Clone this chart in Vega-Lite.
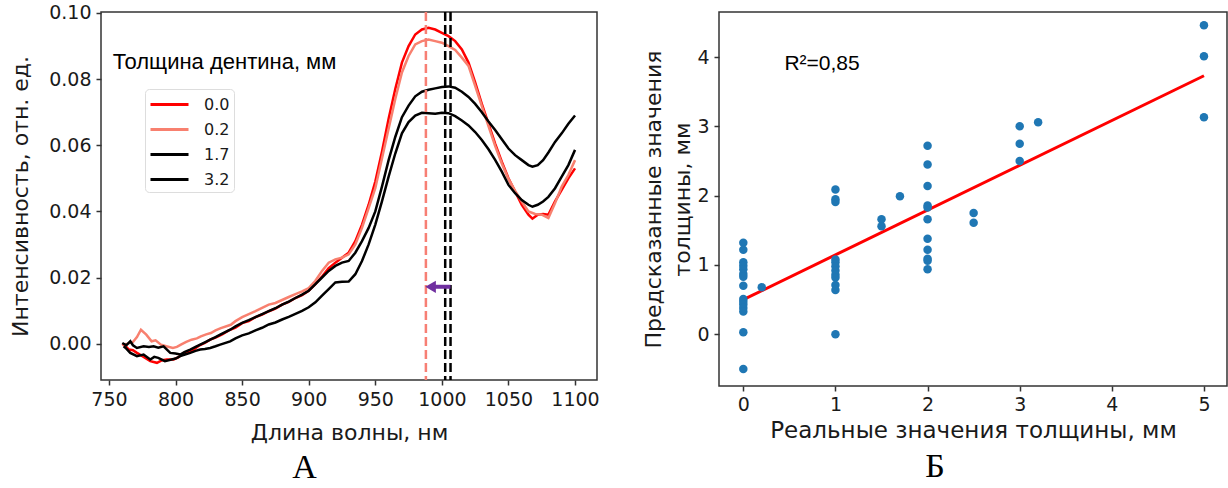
{
"$schema":"https://vega.github.io/schema/vega-lite/v6.json",
"background":"white",
"padding":{"left":8,"top":3,"right":2,"bottom":2},
"bounds":"flush",
"spacing":122,
"config":{
 "view":{"stroke":"#333","strokeWidth":1.5},
 "axis":{"grid":false,"domain":false,"tickColor":"#333","tickWidth":1.5,"tickSize":5,"labelFont":"DejaVu Sans","labelFontSize":19,"labelColor":"#1a1a1a","titleFont":"DejaVu Sans","titleFontSize":22,"titleFontWeight":"normal","titleColor":"#1a1a1a","labelPadding":5},
 "title":{"font":"Liberation Serif","fontSize":34,"fontWeight":"normal","orient":"bottom","anchor":"middle","frame":"bounds","color":"#000"}
},
"hconcat":[
{
 "width":496,"height":368,
 "title":{"text":"А","offset":8},
 "layer":[
  {
   "data":{"values":[
{"t":"0.0","wl":760,"I":0.000},{"t":"0.0","wl":763,"I":-0.001},{"t":"0.0","wl":765,"I":-0.0018},{"t":"0.0","wl":768,"I":-0.002},{"t":"0.0","wl":771,"I":-0.0028},{"t":"0.0","wl":776,"I":-0.004},{"t":"0.0","wl":781,"I":-0.0053},{"t":"0.0","wl":786,"I":-0.0058},{"t":"0.0","wl":790,"I":-0.005},{"t":"0.0","wl":793.5,"I":-0.0048},{"t":"0.0","wl":798.5,"I":-0.0048},{"t":"0.0","wl":802,"I":-0.0042},{"t":"0.0","wl":806,"I":-0.0028},{"t":"0.0","wl":810,"I":-0.0025},{"t":"0.0","wl":813.5,"I":-0.0018},{"t":"0.0","wl":818,"I":-0.0005},{"t":"0.0","wl":822,"I":0.0002},{"t":"0.0","wl":826,"I":0.0012},{"t":"0.0","wl":830,"I":0.0018},{"t":"0.0","wl":835,"I":0.0028},{"t":"0.0","wl":840,"I":0.004},{"t":"0.0","wl":845,"I":0.0048},{"t":"0.0","wl":850,"I":0.0062},{"t":"0.0","wl":855,"I":0.0068},{"t":"0.0","wl":860,"I":0.008},{"t":"0.0","wl":865,"I":0.0088},{"t":"0.0","wl":870,"I":0.0098},{"t":"0.0","wl":875,"I":0.0106},{"t":"0.0","wl":880,"I":0.0118},{"t":"0.0","wl":885,"I":0.0126},{"t":"0.0","wl":890,"I":0.0138},{"t":"0.0","wl":895,"I":0.0147},{"t":"0.0","wl":900,"I":0.016},{"t":"0.0","wl":905,"I":0.018},{"t":"0.0","wl":910,"I":0.0203},{"t":"0.0","wl":915,"I":0.0228},{"t":"0.0","wl":920,"I":0.0245},{"t":"0.0","wl":925,"I":0.026},{"t":"0.0","wl":930,"I":0.0275},{"t":"0.0","wl":935,"I":0.031},{"t":"0.0","wl":940,"I":0.036},{"t":"0.0","wl":945,"I":0.042},{"t":"0.0","wl":950,"I":0.049},{"t":"0.0","wl":955,"I":0.058},{"t":"0.0","wl":960,"I":0.068},{"t":"0.0","wl":965,"I":0.077},{"t":"0.0","wl":970,"I":0.085},{"t":"0.0","wl":975,"I":0.090},{"t":"0.0","wl":980,"I":0.0935},{"t":"0.0","wl":985,"I":0.095},{"t":"0.0","wl":990,"I":0.0955},{"t":"0.0","wl":995,"I":0.095},{"t":"0.0","wl":1000,"I":0.094},{"t":"0.0","wl":1005,"I":0.093},{"t":"0.0","wl":1010,"I":0.0915},{"t":"0.0","wl":1015,"I":0.089},{"t":"0.0","wl":1020,"I":0.085},{"t":"0.0","wl":1025,"I":0.079},{"t":"0.0","wl":1030,"I":0.0725},{"t":"0.0","wl":1035,"I":0.0665},{"t":"0.0","wl":1040,"I":0.0605},{"t":"0.0","wl":1045,"I":0.055},{"t":"0.0","wl":1050,"I":0.050},{"t":"0.0","wl":1055,"I":0.046},{"t":"0.0","wl":1060,"I":0.042},{"t":"0.0","wl":1065,"I":0.039},{"t":"0.0","wl":1068,"I":0.0378},{"t":"0.0","wl":1072,"I":0.039},{"t":"0.0","wl":1076,"I":0.0392},{"t":"0.0","wl":1080,"I":0.039},{"t":"0.0","wl":1085,"I":0.043},{"t":"0.0","wl":1090,"I":0.0465},{"t":"0.0","wl":1095,"I":0.050},{"t":"0.0","wl":1100,"I":0.053},
{"t":"0.2","wl":760,"I":-0.0003},{"t":"0.2","wl":764,"I":0.000},{"t":"0.2","wl":768,"I":0.0005},{"t":"0.2","wl":771,"I":0.002},{"t":"0.2","wl":774,"I":0.0042},{"t":"0.2","wl":778,"I":0.0027},{"t":"0.2","wl":782,"I":0.0007},{"t":"0.2","wl":785,"I":0.001},{"t":"0.2","wl":789,"I":-0.0003},{"t":"0.2","wl":793,"I":-0.0008},{"t":"0.2","wl":798,"I":-0.0013},{"t":"0.2","wl":801,"I":-0.001},{"t":"0.2","wl":804,"I":-0.0003},{"t":"0.2","wl":808,"I":0.0005},{"t":"0.2","wl":812,"I":0.0012},{"t":"0.2","wl":816,"I":0.0016},{"t":"0.2","wl":819,"I":0.0022},{"t":"0.2","wl":823,"I":0.0028},{"t":"0.2","wl":826.5,"I":0.0032},{"t":"0.2","wl":830,"I":0.004},{"t":"0.2","wl":834,"I":0.0047},{"t":"0.2","wl":841.5,"I":0.0057},{"t":"0.2","wl":845,"I":0.0068},{"t":"0.2","wl":850,"I":0.008},{"t":"0.2","wl":855,"I":0.0089},{"t":"0.2","wl":860,"I":0.0098},{"t":"0.2","wl":865,"I":0.0108},{"t":"0.2","wl":870,"I":0.0118},{"t":"0.2","wl":875,"I":0.0123},{"t":"0.2","wl":880,"I":0.0132},{"t":"0.2","wl":885,"I":0.0141},{"t":"0.2","wl":890,"I":0.015},{"t":"0.2","wl":895,"I":0.0158},{"t":"0.2","wl":900,"I":0.0168},{"t":"0.2","wl":905,"I":0.019},{"t":"0.2","wl":910,"I":0.022},{"t":"0.2","wl":915,"I":0.0245},{"t":"0.2","wl":920,"I":0.0255},{"t":"0.2","wl":925,"I":0.026},{"t":"0.2","wl":930,"I":0.027},{"t":"0.2","wl":935,"I":0.030},{"t":"0.2","wl":940,"I":0.035},{"t":"0.2","wl":945,"I":0.041},{"t":"0.2","wl":950,"I":0.047},{"t":"0.2","wl":955,"I":0.056},{"t":"0.2","wl":960,"I":0.065},{"t":"0.2","wl":965,"I":0.074},{"t":"0.2","wl":970,"I":0.082},{"t":"0.2","wl":975,"I":0.087},{"t":"0.2","wl":980,"I":0.0905},{"t":"0.2","wl":985,"I":0.0915},{"t":"0.2","wl":990,"I":0.092},{"t":"0.2","wl":995,"I":0.0915},{"t":"0.2","wl":1000,"I":0.091},{"t":"0.2","wl":1005,"I":0.090},{"t":"0.2","wl":1010,"I":0.0888},{"t":"0.2","wl":1015,"I":0.0865},{"t":"0.2","wl":1020,"I":0.084},{"t":"0.2","wl":1025,"I":0.078},{"t":"0.2","wl":1030,"I":0.0718},{"t":"0.2","wl":1035,"I":0.0658},{"t":"0.2","wl":1040,"I":0.0598},{"t":"0.2","wl":1045,"I":0.0545},{"t":"0.2","wl":1050,"I":0.0498},{"t":"0.2","wl":1055,"I":0.0462},{"t":"0.2","wl":1060,"I":0.043},{"t":"0.2","wl":1065,"I":0.040},{"t":"0.2","wl":1070,"I":0.0392},{"t":"0.2","wl":1075,"I":0.039},{"t":"0.2","wl":1080,"I":0.038},{"t":"0.2","wl":1085,"I":0.0425},{"t":"0.2","wl":1090,"I":0.0475},{"t":"0.2","wl":1095,"I":0.051},{"t":"0.2","wl":1100,"I":0.0555},
{"t":"1.7","wl":760,"I":0.0002},{"t":"1.7","wl":763,"I":-0.0005},{"t":"1.7","wl":766,"I":0.0007},{"t":"1.7","wl":768,"I":-0.0005},{"t":"1.7","wl":771,"I":-0.0013},{"t":"1.7","wl":776,"I":-0.0008},{"t":"1.7","wl":780,"I":-0.001},{"t":"1.7","wl":783.5,"I":-0.0008},{"t":"1.7","wl":787,"I":-0.0012},{"t":"1.7","wl":791,"I":-0.0008},{"t":"1.7","wl":796,"I":-0.0028},{"t":"1.7","wl":800,"I":-0.003},{"t":"1.7","wl":803.5,"I":-0.0033},{"t":"1.7","wl":807,"I":-0.0025},{"t":"1.7","wl":811,"I":-0.0018},{"t":"1.7","wl":815,"I":-0.001},{"t":"1.7","wl":818.5,"I":-0.0003},{"t":"1.7","wl":822,"I":0.0004},{"t":"1.7","wl":826,"I":0.0012},{"t":"1.7","wl":830,"I":0.002},{"t":"1.7","wl":833.5,"I":0.0027},{"t":"1.7","wl":841,"I":0.0042},{"t":"1.7","wl":845,"I":0.0052},{"t":"1.7","wl":850,"I":0.0063},{"t":"1.7","wl":855,"I":0.0071},{"t":"1.7","wl":860,"I":0.008},{"t":"1.7","wl":865,"I":0.0089},{"t":"1.7","wl":870,"I":0.0098},{"t":"1.7","wl":875,"I":0.0107},{"t":"1.7","wl":880,"I":0.0118},{"t":"1.7","wl":885,"I":0.0127},{"t":"1.7","wl":890,"I":0.0138},{"t":"1.7","wl":895,"I":0.0148},{"t":"1.7","wl":900,"I":0.016},{"t":"1.7","wl":905,"I":0.018},{"t":"1.7","wl":910,"I":0.020},{"t":"1.7","wl":915,"I":0.022},{"t":"1.7","wl":920,"I":0.0235},{"t":"1.7","wl":925,"I":0.0245},{"t":"1.7","wl":930,"I":0.025},{"t":"1.7","wl":935,"I":0.0275},{"t":"1.7","wl":940,"I":0.031},{"t":"1.7","wl":945,"I":0.035},{"t":"1.7","wl":950,"I":0.040},{"t":"1.7","wl":955,"I":0.0475},{"t":"1.7","wl":960,"I":0.0555},{"t":"1.7","wl":965,"I":0.0625},{"t":"1.7","wl":970,"I":0.0685},{"t":"1.7","wl":975,"I":0.072},{"t":"1.7","wl":980,"I":0.0748},{"t":"1.7","wl":985,"I":0.0762},{"t":"1.7","wl":990,"I":0.0768},{"t":"1.7","wl":995,"I":0.0772},{"t":"1.7","wl":1000,"I":0.0776},{"t":"1.7","wl":1005,"I":0.0778},{"t":"1.7","wl":1010,"I":0.0774},{"t":"1.7","wl":1015,"I":0.0762},{"t":"1.7","wl":1020,"I":0.0746},{"t":"1.7","wl":1025,"I":0.0725},{"t":"1.7","wl":1030,"I":0.070},{"t":"1.7","wl":1035,"I":0.0672},{"t":"1.7","wl":1040,"I":0.0646},{"t":"1.7","wl":1045,"I":0.0618},{"t":"1.7","wl":1050,"I":0.059},{"t":"1.7","wl":1055,"I":0.057},{"t":"1.7","wl":1060,"I":0.0555},{"t":"1.7","wl":1065,"I":0.054},{"t":"1.7","wl":1068,"I":0.0535},{"t":"1.7","wl":1072,"I":0.054},{"t":"1.7","wl":1076,"I":0.0555},{"t":"1.7","wl":1080,"I":0.0578},{"t":"1.7","wl":1085,"I":0.061},{"t":"1.7","wl":1090,"I":0.0636},{"t":"1.7","wl":1095,"I":0.0665},{"t":"1.7","wl":1100,"I":0.069},
{"t":"3.2","wl":761,"I":-0.0008},{"t":"3.2","wl":763,"I":-0.0015},{"t":"3.2","wl":766,"I":-0.0028},{"t":"3.2","wl":771,"I":-0.0038},{"t":"3.2","wl":776,"I":-0.0033},{"t":"3.2","wl":781,"I":-0.0048},{"t":"3.2","wl":784,"I":-0.004},{"t":"3.2","wl":787,"I":-0.0043},{"t":"3.2","wl":792,"I":-0.0053},{"t":"3.2","wl":797,"I":-0.0048},{"t":"3.2","wl":800,"I":-0.0045},{"t":"3.2","wl":803.5,"I":-0.0038},{"t":"3.2","wl":807,"I":-0.0033},{"t":"3.2","wl":811,"I":-0.0028},{"t":"3.2","wl":815,"I":-0.0022},{"t":"3.2","wl":818.5,"I":-0.0018},{"t":"3.2","wl":822,"I":-0.0016},{"t":"3.2","wl":826,"I":-0.0013},{"t":"3.2","wl":830,"I":-0.0008},{"t":"3.2","wl":833.5,"I":-0.0003},{"t":"3.2","wl":841,"I":0.0007},{"t":"3.2","wl":845,"I":0.0016},{"t":"3.2","wl":850,"I":0.0025},{"t":"3.2","wl":855,"I":0.0031},{"t":"3.2","wl":860,"I":0.004},{"t":"3.2","wl":865,"I":0.0048},{"t":"3.2","wl":870,"I":0.0058},{"t":"3.2","wl":875,"I":0.0064},{"t":"3.2","wl":880,"I":0.0073},{"t":"3.2","wl":885,"I":0.0081},{"t":"3.2","wl":890,"I":0.009},{"t":"3.2","wl":895,"I":0.0099},{"t":"3.2","wl":900,"I":0.011},{"t":"3.2","wl":905,"I":0.0125},{"t":"3.2","wl":910,"I":0.0145},{"t":"3.2","wl":915,"I":0.0165},{"t":"3.2","wl":920,"I":0.0185},{"t":"3.2","wl":925,"I":0.0187},{"t":"3.2","wl":930,"I":0.0188},{"t":"3.2","wl":935,"I":0.021},{"t":"3.2","wl":940,"I":0.025},{"t":"3.2","wl":945,"I":0.030},{"t":"3.2","wl":950,"I":0.036},{"t":"3.2","wl":955,"I":0.043},{"t":"3.2","wl":960,"I":0.0505},{"t":"3.2","wl":965,"I":0.0575},{"t":"3.2","wl":970,"I":0.0636},{"t":"3.2","wl":975,"I":0.067},{"t":"3.2","wl":980,"I":0.069},{"t":"3.2","wl":985,"I":0.0698},{"t":"3.2","wl":990,"I":0.0697},{"t":"3.2","wl":995,"I":0.0695},{"t":"3.2","wl":1000,"I":0.0698},{"t":"3.2","wl":1005,"I":0.0697},{"t":"3.2","wl":1010,"I":0.0688},{"t":"3.2","wl":1015,"I":0.0675},{"t":"3.2","wl":1020,"I":0.066},{"t":"3.2","wl":1025,"I":0.064},{"t":"3.2","wl":1030,"I":0.0616},{"t":"3.2","wl":1035,"I":0.0588},{"t":"3.2","wl":1040,"I":0.0556},{"t":"3.2","wl":1045,"I":0.052},{"t":"3.2","wl":1050,"I":0.048},{"t":"3.2","wl":1055,"I":0.0455},{"t":"3.2","wl":1060,"I":0.0434},{"t":"3.2","wl":1065,"I":0.042},{"t":"3.2","wl":1068,"I":0.0414},{"t":"3.2","wl":1072,"I":0.042},{"t":"3.2","wl":1076,"I":0.043},{"t":"3.2","wl":1080,"I":0.0444},{"t":"3.2","wl":1085,"I":0.047},{"t":"3.2","wl":1090,"I":0.0505},{"t":"3.2","wl":1095,"I":0.054},{"t":"3.2","wl":1100,"I":0.0586}
   ]},
   "mark":{"type":"line","strokeWidth":2.5},
   "encoding":{
    "x":{"field":"wl","type":"quantitative","scale":{"domain":[744,1116.5],"nice":false,"zero":false},"axis":{"values":[750,800,850,900,950,1000,1050,1100],"format":"d","title":"Длина волны, нм","titlePadding":13}},
    "y":{"field":"I","type":"quantitative","scale":{"domain":[-0.011,0.1003],"nice":false,"zero":false},"axis":{"values":[0,0.02,0.04,0.06,0.08,0.1],"format":".2f","title":"Интенсивность, отн. ед.","titlePadding":16}},
    "color":{"field":"t","type":"nominal","scale":{"domain":["0.0","0.2","1.7","3.2"],"range":["#ff0000","#f8806f","#000000","#000000"]},
     "legend":{"orient":"none","legendX":44,"legendY":77,"title":null,"symbolType":"M-1,0H2.8","symbolSize":400,"symbolStrokeWidth":3,"labelFont":"DejaVu Sans","labelFontSize":16,"labelColor":"#1a1a1a","labelOffset":32,"padding":4,"rowPadding":5,"strokeColor":"#dddddd","cornerRadius":4,"fillColor":"white"}},
    "order":{"field":"wl","type":"quantitative"}
   }
  },
  {
   "data":{"values":[{"wl":988}]},
   "mark":{"type":"rule","color":"#f77f74","strokeWidth":2.5,"strokeDash":[9,4]},
   "encoding":{"x":{"field":"wl","type":"quantitative"}}
  },
  {
   "data":{"values":[{"wl":1002.5},{"wl":1006.5}]},
   "mark":{"type":"rule","color":"#000000","strokeWidth":2.5,"strokeDash":[9,4]},
   "encoding":{"x":{"field":"wl","type":"quantitative"}}
  },
  {
   "data":{"values":[{"wl":1006.5,"wl2":993,"I":0.0172}]},
   "mark":{"type":"rule","color":"#7030a0","strokeWidth":4},
   "encoding":{"x":{"field":"wl","type":"quantitative"},"x2":{"field":"wl2"},"y":{"field":"I","type":"quantitative"}}
  },
  {
   "data":{"values":[{"wl":991.5,"I":0.0172}]},
   "mark":{"type":"point","shape":"triangle-left","filled":true,"color":"#7030a0","size":150,"opacity":1},
   "encoding":{"x":{"field":"wl","type":"quantitative"},"y":{"field":"I","type":"quantitative"}}
  },
  {
   "data":{"values":[{"wl":752.8,"I":0.0852,"label":"Толщина дентина, мм"}]},
   "mark":{"type":"text","font":"Liberation Sans","fontSize":22,"align":"left","baseline":"middle","color":"#000"},
   "encoding":{"x":{"field":"wl","type":"quantitative"},"y":{"field":"I","type":"quantitative"},"text":{"field":"label"}}
  }
 ]
},
{
 "width":508,"height":374,
 "title":{"text":"Б","offset":8},
 "layer":[
  {
   "data":{"values":[{"real":0,"pred":0.50},{"real":5,"pred":3.73}]},
   "mark":{"type":"line","color":"#ff0000","strokeWidth":3},
   "encoding":{
    "x":{"field":"real","type":"quantitative","scale":{"domain":[-0.264,5.25],"nice":false,"zero":false},"axis":{"values":[0,1,2,3,4,5],"format":"d","title":"Реальные значения толщины, мм","titleFontSize":23,"titlePadding":5,"labelPadding":4}},
    "y":{"field":"pred","type":"quantitative","scale":{"domain":[-0.746,4.65],"nice":false,"zero":false},"axis":{"values":[0,1,2,3,4],"format":"d","title":["Предсказанные значения","толщины, мм"],"titleLineHeight":29,"titlePadding":2}}
   }
  },
  {
   "data":{"values":[
{"real":0,"pred":1.32},{"real":0,"pred":1.22},{"real":0,"pred":1.04},{"real":0,"pred":0.99},{"real":0,"pred":0.94},{"real":0,"pred":0.87},{"real":0,"pred":0.83},{"real":0,"pred":0.70},{"real":0,"pred":0.51},{"real":0,"pred":0.47},{"real":0,"pred":0.43},{"real":0,"pred":0.38},{"real":0,"pred":0.33},{"real":0,"pred":0.03},{"real":0,"pred":-0.50},
{"real":0.2,"pred":0.68},
{"real":1,"pred":2.09},{"real":1,"pred":1.95},{"real":1,"pred":1.91},{"real":1,"pred":1.08},{"real":1,"pred":1.04},{"real":1,"pred":0.98},{"real":1,"pred":0.92},{"real":1,"pred":0.86},{"real":1,"pred":0.82},{"real":1,"pred":0.71},{"real":1,"pred":0.64},{"real":1,"pred":0.0},
{"real":1.5,"pred":1.66},{"real":1.5,"pred":1.56},
{"real":1.7,"pred":1.99},
{"real":2,"pred":2.72},{"real":2,"pred":2.45},{"real":2,"pred":2.14},{"real":2,"pred":1.86},{"real":2,"pred":1.83},{"real":2,"pred":1.66},{"real":2,"pred":1.38},{"real":2,"pred":1.22},{"real":2,"pred":1.09},{"real":2,"pred":1.06},{"real":2,"pred":0.94},
{"real":2.5,"pred":1.75},{"real":2.5,"pred":1.61},
{"real":3,"pred":3.0},{"real":3,"pred":2.75},{"real":3,"pred":2.50},
{"real":3.2,"pred":3.06},
{"real":5,"pred":4.46},{"real":5,"pred":4.01},{"real":5,"pred":3.13}
   ]},
   "mark":{"type":"circle","color":"#1f77b4","size":72,"opacity":1},
   "encoding":{"x":{"field":"real","type":"quantitative"},"y":{"field":"pred","type":"quantitative"}}
  },
  {
   "data":{"values":[{"real":0.446,"pred":3.9,"label":"R²=0,85"}]},
   "mark":{"type":"text","font":"Liberation Sans","fontSize":21,"align":"left","baseline":"middle","color":"#000"},
   "encoding":{"x":{"field":"real","type":"quantitative"},"y":{"field":"pred","type":"quantitative"},"text":{"field":"label"}}
  }
 ]
}
]
}
